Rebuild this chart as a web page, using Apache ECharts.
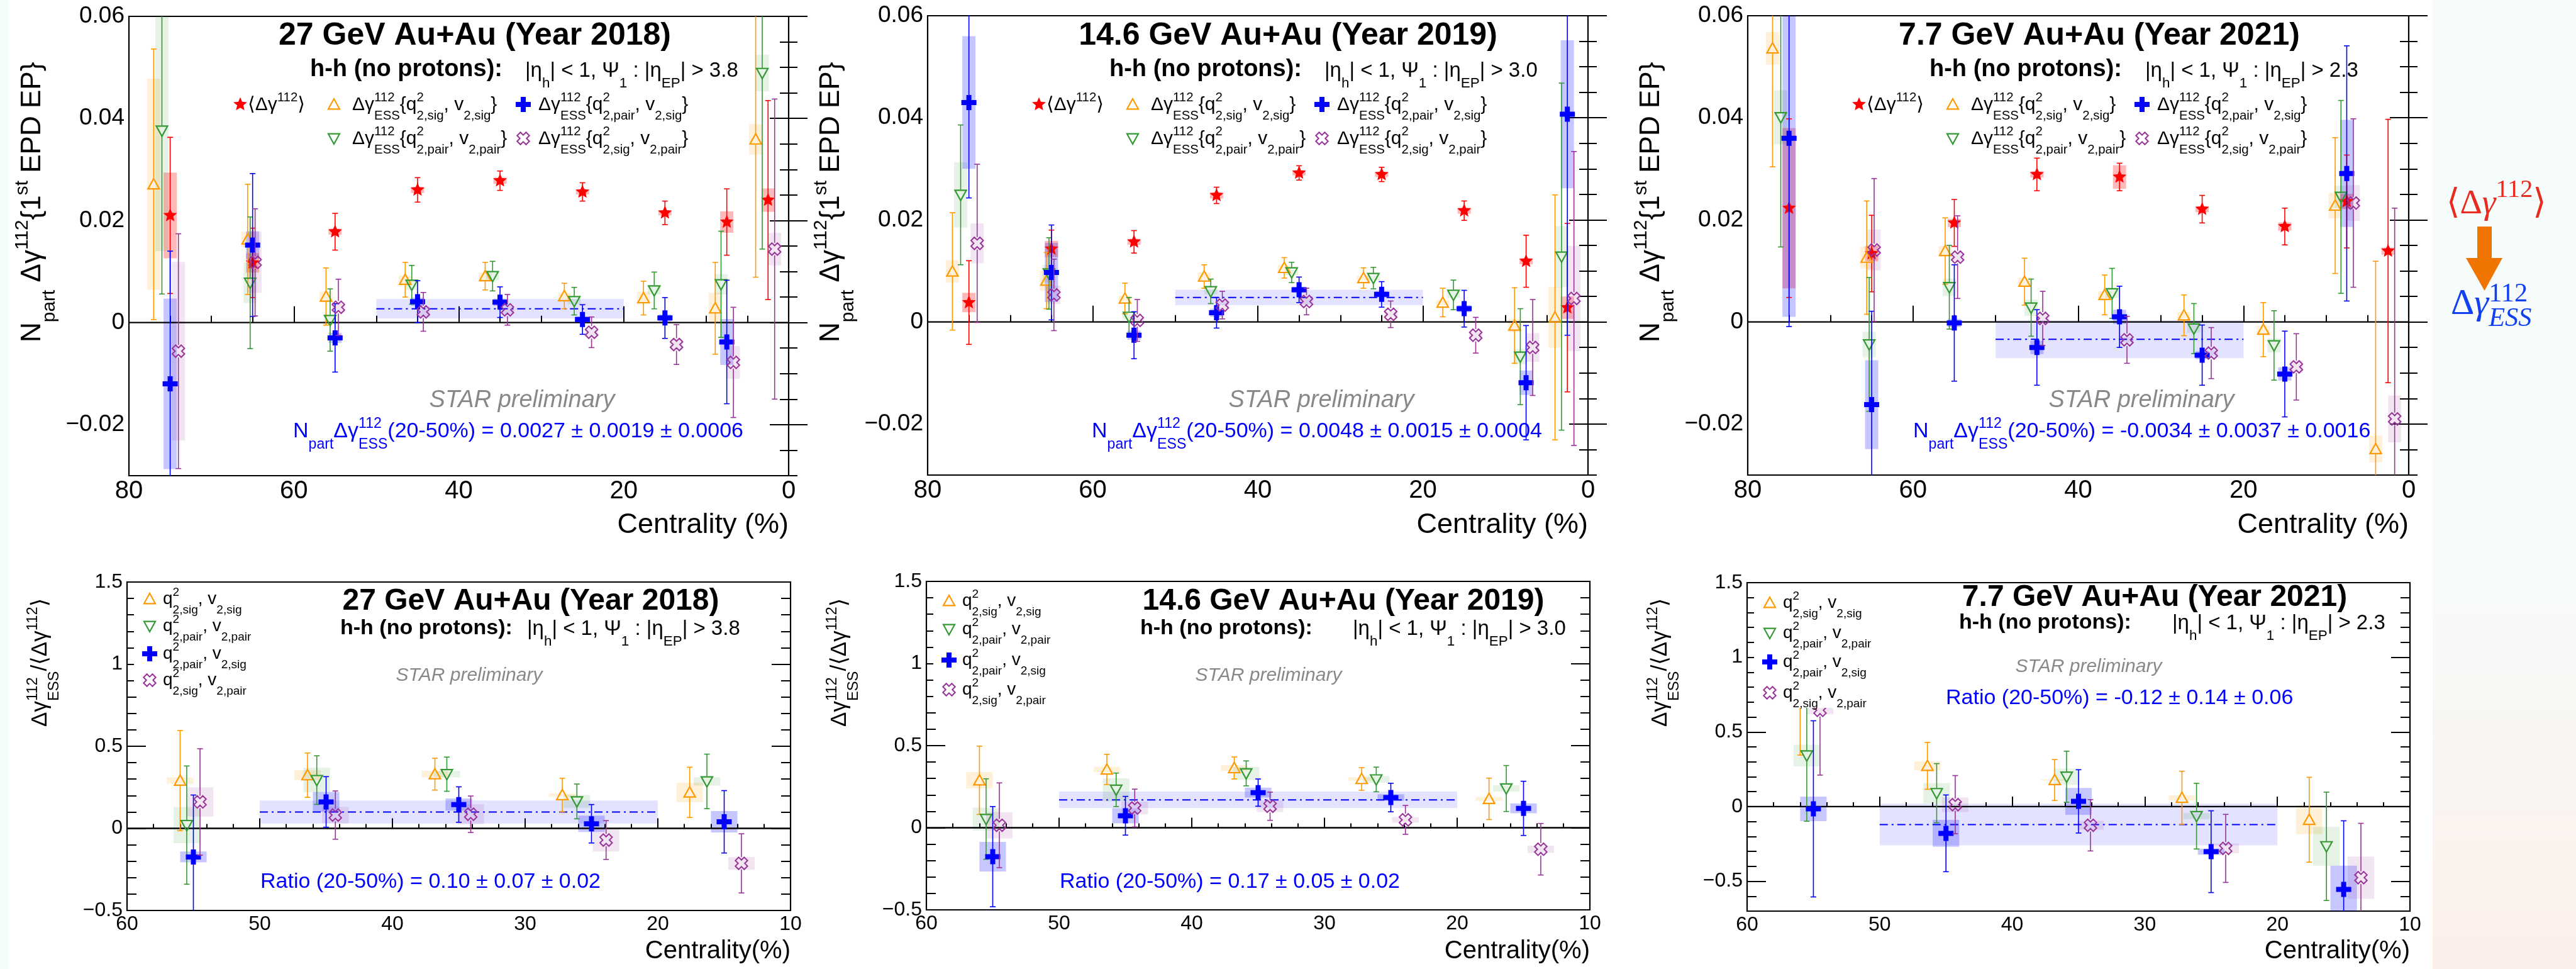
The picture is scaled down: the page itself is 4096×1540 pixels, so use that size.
<!DOCTYPE html>
<html>
<head>
<meta charset="utf-8">
<title>Δγ112 ESS vs centrality, Au+Au at 27, 14.6 and 7.7 GeV</title>
<script src="https://cdn.jsdelivr.net/npm/echarts@6.0.0/dist/echarts.min.js"></script>
<style>
  html, body { margin: 0; padding: 0; background: #ffffff; }
  #chart { width: 4096px; height: 1540px; }
</style>
</head>
<body>
<div id="chart"></div>
<script>
// ------------------------------------------------------------------
// Beam energies and cuts
// ------------------------------------------------------------------
const energies = ['27', '14.6', '7.7'];
const years = ['2018', '2019', '2021'];
const etaGaps = ['3.8', '3.0', '2.3'];

// Tick values
const topXTicks = [0, 20, 40, 60, 80];
const topYTicks = [-0.02, 0, 0.02, 0.04, 0.06];
const ratioXTicks = [10, 20, 30, 40, 50, 60];
const ratioYTicks = [-0.5, 0, 0.5, 1, 1.5];

// ------------------------------------------------------------------
// Upper row: N_part * Δγ112 vs centrality (%)
// mean = <Δγ112>, sigSig = {q2_sig, v2_sig}, pairPair = {q2_pair, v2_pair},
// pairSig = {q2_pair, v2_sig}, sigPair = {q2_sig, v2_pair}
// ------------------------------------------------------------------
const topX_mean     = [75, 65, 55, 45, 35, 25, 15, 7.5, 2.5];
const topX_sigSig   = [77, 65.6, 56.1, 46.5, 36.8, 27.2, 17.6, 8.9, 4.0];
const topX_pairPair = [76, 65.3, 55.6, 45.7, 35.9, 26.0, 16.3, 8.2, 3.2];
const topX_pairSig  = [75, 65, 55, 45, 35, 25, 15, 7.5, 2.5];
const topX_sigPair  = [74, 64.7, 54.6, 44.3, 34.1, 23.9, 13.6, 6.7, 1.7];

// 27 GeV
const t27_mean          = [0.0210, 0.0117, 0.0178, 0.0260, 0.0278, 0.0256, 0.0215, 0.0197, 0.0240];
const t27_mean_stat     = [0.0153, 0.0068, 0.0036, 0.0024, 0.0019, 0.0018, 0.0023, 0.0065, 0.0195];
const t27_mean_sys      = [0.0084, 0.0019, 0.0006, 0.0006, 0.0006, 0.0005, 0.0005, 0.0021, 0.0023];
const t27_sigSig        = [0.0271, 0.0163, 0.0051, 0.0084, 0.0091, 0.0052, 0.0048, 0.0028, 0.0359];
const t27_sigSig_stat   = [0.0265, 0.0108, 0.0056, 0.0034, 0.0027, 0.0025, 0.0033, 0.0090, 0.0270];
const t27_sigSig_sys    = [0.0207, 0.0015, 0.0010, 0.0008, 0.0007, 0.0006, 0.0013, 0.0030, 0.0030];
const t27_pairPair      = [0.0376, 0.0078, 0.0005, 0.0074, 0.0091, 0.0042, 0.0063, 0.0075, 0.0489];
const t27_pairPair_stat = [0.0320, 0.0129, 0.0061, 0.0038, 0.0029, 0.0027, 0.0036, 0.0104, 0.0345];
const t27_pairPair_sys  = [0.0236, 0.0040, 0.0010, 0.0010, 0.0008, 0.0006, 0.0008, 0.0020, 0.0036];
const t27_pairSig       = [-0.0120, 0.0152, -0.0030, 0.0041, 0.0040, 0.0006, 0.0009, -0.0038, null];
const t27_pairSig_stat  = [0.0260, 0.0140, 0.0067, 0.0041, 0.0030, 0.0029, 0.0040, 0.0121, null];
const t27_pairSig_sys   = [0.0167, 0.0027, 0.0010, 0.0008, 0.0007, 0.0006, 0.0007, 0.0045, null];
const t27_sigPair       = [-0.0056, 0.0118, 0.0030, 0.0021, 0.0025, -0.0019, -0.0043, -0.0078, 0.0144];
const t27_sigPair_stat  = [0.0230, 0.0105, 0.0055, 0.0038, 0.0030, 0.0030, 0.0039, 0.0108, 0.0294];
const t27_sigPair_sys   = [0.0175, 0.0060, 0.0010, 0.0010, 0.0008, 0.0008, 0.0010, 0.0032, 0.0032];

// 14.6 GeV
const t14_mean          = [0.0038, 0.0143, 0.0157, 0.0248, 0.0292, 0.0289, 0.0218, 0.0119, 0.0028];
const t14_mean_stat     = [0.0082, 0.0037, 0.0022, 0.0016, 0.0014, 0.0014, 0.0019, 0.0051, 0.0165];
const t14_mean_sys      = [0.0019, 0.0016, 0.0006, 0.0006, 0.0005, 0.0005, 0.0006, 0.0006, 0.0022];
const t14_sigSig        = [0.0099, 0.0081, 0.0046, 0.0089, 0.0106, 0.0086, 0.0038, -0.0007, 0.0009];
const t14_sigSig_stat   = [0.0115, 0.0055, 0.0030, 0.0023, 0.0020, 0.0020, 0.0028, 0.0074, 0.0240];
const t14_sigSig_sys    = [0.0022, 0.0020, 0.0005, 0.0008, 0.0006, 0.0005, 0.0005, 0.0013, 0.0060];
const t14_pairPair      = [0.0249, 0.0095, 0.0010, 0.0060, 0.0097, 0.0086, 0.0053, -0.0068, 0.0128];
const t14_pairPair_stat = [0.0137, 0.0070, 0.0038, 0.0024, 0.0020, 0.0021, 0.0029, 0.0094, 0.0340];
const t14_pairPair_sys  = [0.0064, 0.0017, 0.0005, 0.0006, 0.0005, 0.0005, 0.0006, 0.0015, 0.0060];
const t14_pairSig       = [0.0430, 0.0097, -0.0026, 0.0018, 0.0063, 0.0054, 0.0026, -0.0119, 0.0407];
const t14_pairSig_stat  = [0.0187, 0.0093, 0.0046, 0.0030, 0.0025, 0.0025, 0.0036, 0.0112, 0.0433];
const t14_pairSig_sys   = [0.0130, 0.0058, 0.0009, 0.0008, 0.0006, 0.0006, 0.0007, 0.0024, 0.0145];
const t14_sigPair       = [0.0154, 0.0053, 0.0003, 0.0033, 0.0040, 0.0015, -0.0026, -0.0050, 0.0046];
const t14_sigPair_stat  = [0.0155, 0.0070, 0.0041, 0.0027, 0.0026, 0.0026, 0.0035, 0.0094, 0.0288];
const t14_sigPair_sys   = [0.0039, 0.0018, 0.0006, 0.0008, 0.0006, 0.0006, 0.0007, 0.0028, 0.0103];

// 7.7 GeV
const t7_mean          = [0.0223, 0.0134, 0.0194, 0.0289, 0.0284, 0.0221, 0.0187, 0.0236, 0.0139];
const t7_mean_stat     = [0.0175, 0.0075, 0.0046, 0.0032, 0.0027, 0.0027, 0.0036, 0.0091, 0.0258];
const t7_mean_sys      = [0.0157, 0.0015, 0.0008, 0.0006, 0.0023, 0.0006, 0.0008, 0.0015, 0.0007];
const t7_sigSig        = [0.0536, 0.0126, 0.0139, 0.0079, 0.0053, 0.0013, -0.0015, 0.0228, -0.0249];
const t7_sigSig_stat   = [0.0232, 0.0111, 0.0065, 0.0046, 0.0039, 0.0040, 0.0053, 0.0133, 0.0368];
const t7_sigSig_sys    = [0.0032, 0.0022, 0.0010, 0.0008, 0.0007, 0.0006, 0.0008, 0.0025, 0.0026];
const t7_pairPair      = [0.0401, -0.0044, 0.0068, 0.0028, 0.0056, -0.0013, -0.0046, 0.0245, null];
const t7_pairPair_stat = [0.0254, 0.0131, 0.0082, 0.0056, 0.0049, 0.0049, 0.0068, 0.0189, null];
const t7_pairPair_sys  = [0.0053, 0.0025, 0.0017, 0.0016, 0.0009, 0.0008, 0.0014, 0.0022, null];
const t7_pairSig       = [0.0360, -0.0162, -0.0002, -0.0050, 0.0010, -0.0065, -0.0102, 0.0291, null];
const t7_pairSig_stat  = [0.0369, 0.0183, 0.0114, 0.0074, 0.0060, 0.0059, 0.0084, 0.0250, null];
const t7_pairSig_sys   = [0.0350, 0.0087, 0.0008, 0.0013, 0.0014, 0.0008, 0.0013, 0.0105, null];
const t7_sigPair       = [null, 0.0141, 0.0127, 0.0007, -0.0035, -0.0061, -0.0088, 0.0233, -0.0190];
const t7_sigPair_stat  = [null, 0.0140, 0.0081, 0.0053, 0.0046, 0.0050, 0.0065, 0.0165, 0.0413];
const t7_sigPair_sys   = [null, 0.0040, 0.0008, 0.0006, 0.0005, 0.0005, 0.0012, 0.0035, 0.0046];

// 20-50% averages of N_part*Δγ112_ESS{q2_pair, v2_sig}: value, stat, sys
const sumTopVal  = [0.0027, 0.0048, -0.0034];
const sumTopStat = [0.0019, 0.0015, 0.0037];
const sumTopSys  = [0.0006, 0.0004, 0.0016];

// ------------------------------------------------------------------
// Lower row: Δγ112_ESS / <Δγ112> vs centrality (%)
// ------------------------------------------------------------------
const ratioX_sigSig   = [56, 46.4, 36.8, 27.2, 17.6];
const ratioX_pairPair = [55.5, 45.7, 35.9, 26.1, 16.3];
const ratioX_pairSig  = [55, 45, 35, 25, 15];
const ratioX_sigPair  = [54.5, 44.3, 34.1, 23.9, 13.7];

const r27_sigSig        = [0.291, 0.324, 0.330, 0.203, 0.219];
const r27_sigSig_stat   = [0.305, 0.135, 0.097, 0.102, 0.153];
const r27_sigSig_sys    = [0.020, 0.030, 0.020, 0.010, 0.060];
const r27_pairPair      = [0.020, 0.294, 0.330, 0.164, 0.286];
const r27_pairPair_stat = [0.360, 0.148, 0.104, 0.106, 0.166];
const r27_pairPair_sys  = [0.110, 0.075, 0.020, 0.040, 0.025];
const r27_pairSig       = [-0.174, 0.161, 0.145, 0.028, 0.040];
const r27_pairSig_stat  = [0.377, 0.154, 0.108, 0.117, 0.190];
const r27_pairSig_sys   = [0.033, 0.060, 0.037, 0.050, 0.065];
const r27_sigPair       = [0.161, 0.081, 0.086, -0.071, -0.213];
const r27_sigPair_stat  = [0.324, 0.147, 0.111, 0.118, 0.180];
const r27_sigPair_sys   = [0.089, 0.050, 0.061, 0.070, 0.039];

const r14_sigSig        = [0.289, 0.355, 0.364, 0.297, 0.176];
const r14_sigSig_stat   = [0.208, 0.092, 0.067, 0.069, 0.126];
const r14_sigSig_sys    = [0.050, 0.017, 0.018, 0.010, 0.012];
const r14_pairPair      = [0.053, 0.231, 0.331, 0.294, 0.239];
const r14_pairPair_stat = [0.245, 0.102, 0.076, 0.075, 0.140];
const r14_pairPair_sys  = [0.070, 0.070, 0.040, 0.020, 0.020];
const r14_pairSig       = [-0.176, 0.073, 0.214, 0.184, 0.118];
const r14_pairSig_stat  = [0.305, 0.118, 0.083, 0.087, 0.165];
const r14_pairSig_sys   = [0.090, 0.046, 0.030, 0.020, 0.030];
const r14_sigPair       = [0.015, 0.120, 0.131, 0.048, -0.131];
const r14_sigPair_stat  = [0.258, 0.115, 0.086, 0.088, 0.157];
const r14_sigPair_sys   = [0.080, 0.039, 0.035, 0.017, 0.022];

const r7_sigSig        = [0.850, 0.273, 0.178, 0.059, -0.088];
const r7_sigSig_stat   = [0.505, 0.157, 0.137, 0.178, 0.284];
const r7_sigSig_sys    = [0.030, 0.030, 0.005, 0.017, 0.097];
const r7_pairPair      = [0.342, 0.090, 0.200, -0.064, -0.266];
const r7_pairPair_stat = [0.440, 0.198, 0.171, 0.220, 0.363];
const r7_pairPair_sys  = [0.073, 0.068, 0.055, 0.020, 0.130];
const r7_pairSig       = [-0.015, -0.179, 0.035, -0.302, -0.555];
const r7_pairSig_stat  = [0.590, 0.257, 0.212, 0.274, 0.460];
const r7_pairSig_sys   = [0.082, 0.090, 0.090, 0.020, 0.160];
const r7_sigPair       = [0.645, 0.013, -0.125, -0.280, -0.476];
const r7_sigPair_stat  = [0.434, 0.195, 0.172, 0.228, 0.364];
const r7_sigPair_sys   = [0.027, 0.049, 0.030, 0.032, 0.142];

// 20-50% averages of the ratio: value, stat, sys
const sumRatioVal  = [0.10, 0.17, -0.12];
const sumRatioStat = [0.07, 0.05, 0.14];
const sumRatioSys  = [0.02, 0.02, 0.06];

// ------------------------------------------------------------------
// Assemble per-panel tables
// ------------------------------------------------------------------
const topX = { mean: topX_mean, sigSig: topX_sigSig, pairPair: topX_pairPair, pairSig: topX_pairSig, sigPair: topX_sigPair };
const ratioX = { sigSig: ratioX_sigSig, pairPair: ratioX_pairPair, pairSig: ratioX_pairSig, sigPair: ratioX_sigPair };
const topSets = [
  { mean: [t27_mean, t27_mean_stat, t27_mean_sys], sigSig: [t27_sigSig, t27_sigSig_stat, t27_sigSig_sys],
    pairPair: [t27_pairPair, t27_pairPair_stat, t27_pairPair_sys], pairSig: [t27_pairSig, t27_pairSig_stat, t27_pairSig_sys],
    sigPair: [t27_sigPair, t27_sigPair_stat, t27_sigPair_sys] },
  { mean: [t14_mean, t14_mean_stat, t14_mean_sys], sigSig: [t14_sigSig, t14_sigSig_stat, t14_sigSig_sys],
    pairPair: [t14_pairPair, t14_pairPair_stat, t14_pairPair_sys], pairSig: [t14_pairSig, t14_pairSig_stat, t14_pairSig_sys],
    sigPair: [t14_sigPair, t14_sigPair_stat, t14_sigPair_sys] },
  { mean: [t7_mean, t7_mean_stat, t7_mean_sys], sigSig: [t7_sigSig, t7_sigSig_stat, t7_sigSig_sys],
    pairPair: [t7_pairPair, t7_pairPair_stat, t7_pairPair_sys], pairSig: [t7_pairSig, t7_pairSig_stat, t7_pairSig_sys],
    sigPair: [t7_sigPair, t7_sigPair_stat, t7_sigPair_sys] }
];
const ratioSets = [
  { sigSig: [r27_sigSig, r27_sigSig_stat, r27_sigSig_sys], pairPair: [r27_pairPair, r27_pairPair_stat, r27_pairPair_sys],
    pairSig: [r27_pairSig, r27_pairSig_stat, r27_pairSig_sys], sigPair: [r27_sigPair, r27_sigPair_stat, r27_sigPair_sys] },
  { sigSig: [r14_sigSig, r14_sigSig_stat, r14_sigSig_sys], pairPair: [r14_pairPair, r14_pairPair_stat, r14_pairPair_sys],
    pairSig: [r14_pairSig, r14_pairSig_stat, r14_pairSig_sys], sigPair: [r14_sigPair, r14_sigPair_stat, r14_sigPair_sys] },
  { sigSig: [r7_sigSig, r7_sigSig_stat, r7_sigSig_sys], pairPair: [r7_pairPair, r7_pairPair_stat, r7_pairPair_sys],
    pairSig: [r7_pairSig, r7_pairSig_stat, r7_pairSig_sys], sigPair: [r7_sigPair, r7_sigPair_stat, r7_sigPair_sys] }
];

// ------------------------------------------------------------------
// Styling
// ------------------------------------------------------------------
const FONT = '"Liberation Sans", "DejaVu Sans", sans-serif';
const SERIF = '"Liberation Serif", "DejaVu Serif", serif';
const MID = 0.35;          // canvas 'middle' baseline above the alphabetic one, in em
const ERR_LW = 1.6;
const CAP = 4.5;

function starPts(R) {
  const p = [];
  for (let k = 0; k < 10; k++) {
    const r = k % 2 === 0 ? R : R * 0.45;
    const a = -Math.PI / 2 + k * Math.PI / 5;
    p.push([r * Math.cos(a), r * Math.sin(a)]);
  }
  return p;
}
function triPts(w, dir) {
  const h = w * 0.9;
  return [[0, -dir * h * 0.55], [w / 2, dir * h * 0.45], [-w / 2, dir * h * 0.45]];
}
function plusPts(s, t) {
  const a = s / 2, b = t / 2;
  return [[-b, -a], [b, -a], [b, -b], [a, -b], [a, b], [b, b], [b, a], [-b, a], [-b, b], [-a, b], [-a, -b], [-b, -b]];
}
function xPts(s, t) {
  const c = Math.SQRT1_2;
  return plusPts(s, t).map(([x, y]) => [(x - y) * c, (x + y) * c]);
}

const MK = {
  mean:     { color: '#ff0000', box: 'rgba(255,0,0,0.28)',    pts: starPts(11.5), open: false },
  sigSig:   { color: '#ff9900', box: 'rgba(255,153,0,0.15)',  pts: triPts(18, 1),  open: true, gap: 8, lw: 2.2 },
  pairPair: { color: '#339933', box: 'rgba(51,153,51,0.13)',  pts: triPts(18, -1), open: true, gap: 8, lw: 2.2 },
  pairSig:  { color: '#0000ff', box: 'rgba(0,0,255,0.22)',    pts: plusPts(24, 8), open: false },
  sigPair:  { color: '#993399', box: 'rgba(153,51,153,0.13)', pts: xPts(20, 7.5), open: true, gap: 10, lw: 2 }
};
function markerEl(m, x, y, z) {
  const st = m.open ? { fill: 'none', stroke: m.color, lineWidth: m.lw } : { fill: m.color, stroke: null };
  return { type: 'polygon', x, y, z, shape: { points: m.pts }, style: st };
}

// ------------------------------------------------------------------
// Text with ROOT-like super/subscripts
// ------------------------------------------------------------------
const mctx = document.createElement('canvas').getContext('2d');
function measure(t, font) { mctx.font = font; return mctx.measureText(t).width; }
function fontOf(size, st) {
  return (st.style || 'normal') + ' ' + (st.weight || 'normal') + ' ' + size + 'px ' + (st.family || FONT);
}
function parseMath(s) {
  const items = [];
  let buf = '';
  for (let i = 0; i < s.length; i++) {
    const ch = s[i];
    if ((ch === '^' || ch === '_') && s[i + 1] === '{') {
      const end = s.indexOf('}', i + 2);
      const g = s.slice(i + 2, end);
      if (buf) { items.push({ t: buf }); buf = ''; }
      const slot = ch === '^' ? 'sup' : 'sub';
      const last = items[items.length - 1];
      if (last && last.t === undefined && last[slot] === undefined) last[slot] = g;
      else items.push({ [slot]: g });
      i = end;
    } else buf += ch;
  }
  if (buf) items.push({ t: buf });
  return items;
}
function mathText(src, o) {
  const items = typeof src === 'string' ? parseMath(src) : src;
  const S = o.size, k = o.scr || 0.68;
  const up = o.up !== undefined ? o.up : 0.47, dn = o.dn !== undefined ? o.dn : 0.5;
  const base = { family: o.family || FONT, weight: o.weight || 'normal', style: o.style || 'normal' };
  const fill = o.fill || '#000';
  const kids = [];
  let cx = 0;
  const put = (t, x, bl, size, st) => {
    const f = fontOf(size, st);
    kids.push({ type: 'text', x, y: bl - MID * size, z: 100, silent: true,
      style: { text: t, font: f, fill, align: 'left', verticalAlign: 'middle', textAlign: 'left', textVerticalAlign: 'middle' } });
    return measure(t, f);
  };
  for (const it of items) {
    if (it.t !== undefined) {
      cx += put(it.t, cx, 0, S, Object.assign({}, base, it.st || {}));
    } else {
      let w = 0;
      if (it.sup !== undefined) w = Math.max(w, put(it.sup, cx, -up * S, k * S, Object.assign({}, base, it.supSt || {})));
      if (it.sub !== undefined) w = Math.max(w, put(it.sub, cx, dn * S, k * S, Object.assign({}, base, it.subSt || {})));
      cx += w;
    }
  }
  const shift = o.align === 'center' ? -cx / 2 : o.align === 'right' ? -cx : 0;
  kids.forEach(e => { e.x += shift; });
  return { type: 'group', x: o.x, y: o.y, rotation: o.rot || 0, z: 100, silent: true, children: kids };
}

// ------------------------------------------------------------------
// Panel geometry (px) and axis setups
// ------------------------------------------------------------------
const topGrids = [
  { left: 205, top: 26, width: 1049, height: 730 },
  { left: 1475, top: 25, width: 1050, height: 730 },
  { left: 2779, top: 25, width: 1051, height: 730 }
];
const botGrids = [
  { left: 202, top: 925, width: 1055, height: 522 },
  { left: 1473, top: 924, width: 1055, height: 522 },
  { left: 2778, top: 926, width: 1054, height: 522 }
];
function steps(a, b, d) {
  const out = [];
  const n = Math.round((b - a) / d);
  for (let i = 0; i <= n; i++) out.push(Math.round((a + i * d) * 1e6) / 1e6);
  return out;
}
const TOP_AX = { xmin: 0, xmax: 80, ymin: -0.03, ymax: 0.06, xMajor: topXTicks, xMinor: steps(0, 80, 5),
  yMajor: topYTicks, yMinor: steps(-0.03, 0.06, 0.005), xMajLen: 26, xMinLen: 11, yMajLen: 30, yMinLen: 14,
  xFont: 40, yFont: 37, xMargin: 5, yMargin: 7, boxHalf: 0.8 };
const BOT_AX = { xmin: 10, xmax: 60, ymin: -0.5, ymax: 1.5, xMajor: ratioXTicks, xMinor: steps(10, 60, 2),
  yMajor: ratioYTicks, yMinor: steps(-0.5, 1.5, 0.1), xMajLen: 16, xMinLen: 7, yMajLen: 30, yMinLen: 15,
  xFont: 32, yFont: 32, xMargin: 6, yMargin: 7, boxHalf: 1.0 };
const BOT_AX_77 = Object.assign({}, BOT_AX, { ymin: -0.7, yMinor: steps(-0.7, 1.5, 0.1) });

function tickFmt(v) {
  const r = Math.round(v * 1e6) / 1e6;
  return r < 0 ? '\u2212' + String(-r) : String(r);
}

const grids = [], xAxes = [], yAxes = [], series = [], gfx = [];
const tickLine = { color: '#000', width: 2 };

function addPanel(g, ax) {
  const gi = grids.length;
  grids.push(Object.assign({ show: true, borderColor: '#000', borderWidth: 2.2, backgroundColor: 'transparent',
    containLabel: false, outerBoundsMode: 'none' }, g));
  const xi = xAxes.length, yi = yAxes.length;
  const bx = { gridIndex: gi, type: 'value', min: ax.xmin, max: ax.xmax, inverse: true, position: 'bottom',
    axisLine: { show: false }, splitLine: { show: false } };
  xAxes.push(Object.assign({}, bx, {
    axisTick: { show: true, inside: true, length: ax.xMajLen, customValues: ax.xMajor, lineStyle: tickLine },
    axisLabel: { show: true, customValues: ax.xMajor, fontSize: ax.xFont, fontFamily: FONT, color: '#000',
      margin: ax.xMargin, formatter: tickFmt } }));
  xAxes.push(Object.assign({}, bx, {
    axisTick: { show: true, inside: true, length: ax.xMinLen, customValues: ax.xMinor, lineStyle: tickLine },
    axisLabel: { show: false } }));
  const by = { gridIndex: gi, type: 'value', min: ax.ymin, max: ax.ymax, axisLine: { show: false }, splitLine: { show: false } };
  ['left', 'right'].forEach(pos => {
    yAxes.push(Object.assign({}, by, { position: pos,
      axisTick: { show: true, inside: true, length: ax.yMajLen, customValues: ax.yMajor, lineStyle: tickLine },
      axisLabel: pos === 'left'
        ? { show: true, customValues: ax.yMajor, fontSize: ax.yFont, fontFamily: FONT, color: '#000', margin: ax.yMargin, formatter: tickFmt }
        : { show: false } }));
    yAxes.push(Object.assign({}, by, { position: pos,
      axisTick: { show: true, inside: true, length: ax.yMinLen, customValues: ax.yMinor, lineStyle: tickLine },
      axisLabel: { show: false } }));
  });
  return { xi, yi };
}

// 20-50% band with its dash-dotted mean line
const SUM_FROM = 50, SUM_TO = 20;
function summarySeries(xi, yi, v, e) {
  return { type: 'custom', xAxisIndex: xi, yAxisIndex: yi, z: 1, silent: true, animation: false, clip: false,
    encode: { x: 0, y: 2 }, data: [[SUM_FROM, SUM_TO, v, e]],
    renderItem(params, api) {
      const a = api.coord([api.value(0), api.value(2) + api.value(3)]);
      const b = api.coord([api.value(1), api.value(2) - api.value(3)]);
      const m1 = api.coord([api.value(0), api.value(2)]), m2 = api.coord([api.value(1), api.value(2)]);
      return { type: 'group', children: [
        { type: 'rect', shape: { x: Math.min(a[0], b[0]), y: Math.min(a[1], b[1]), width: Math.abs(b[0] - a[0]), height: Math.abs(b[1] - a[1]) },
          style: { fill: 'rgba(0,0,255,0.11)' } },
        { type: 'line', shape: { x1: m1[0], y1: m1[1], x2: m2[0], y2: m2[1] },
          style: { stroke: '#0000ff', lineWidth: 2, lineDash: [13, 6, 3, 6] } }
      ] };
    } };
}
function zeroSeries(xi, yi, xmin) {
  return { type: 'custom', xAxisIndex: xi, yAxisIndex: yi, z: 3, silent: true, animation: false, clip: false,
    data: [[xmin, 0]],
    renderItem(params, api) {
      const cs = params.coordSys;
      const y = api.coord([api.value(0), api.value(1)])[1];
      return { type: 'line', shape: { x1: cs.x, y1: y, x2: cs.x + cs.width, y2: y }, style: { stroke: '#000', lineWidth: 2.4 } };
    } };
}
function rows(xs, ys, es) {
  const d = [];
  xs.forEach((x, i) => { if (ys[i] !== null && ys[i] !== undefined) d.push([x, ys[i], es[i]]); });
  return d;
}
function sysSeries(xi, yi, key, xs, ys, ss, halfW) {
  const m = MK[key];
  return { type: 'custom', xAxisIndex: xi, yAxisIndex: yi, z: 2, silent: true, animation: false, clip: false,
    data: rows(xs, ys, ss),
    renderItem(params, api) {
      const cs = params.coordSys;
      const x = api.value(0), y = api.value(1), s = api.value(2);
      const a = api.coord([x - halfW, y + s]), b = api.coord([x + halfW, y - s]);
      const y0 = Math.max(Math.min(a[1], b[1]), cs.y), y1 = Math.min(Math.max(a[1], b[1]), cs.y + cs.height);
      if (y1 <= y0) return null;
      return { type: 'rect', shape: { x: Math.min(a[0], b[0]), y: y0, width: Math.abs(b[0] - a[0]), height: y1 - y0 },
        style: { fill: m.box } };
    } };
}
function pointSeries(xi, yi, key, xs, ys, es, z) {
  const m = MK[key];
  return { type: 'custom', xAxisIndex: xi, yAxisIndex: yi, z, silent: true, animation: false, clip: false,
    data: rows(xs, ys, es),
    renderItem(params, api) {
      const cs = params.coordSys;
      const top = cs.y, bot = cs.y + cs.height;
      const x = api.value(0), y = api.value(1), e = api.value(2);
      const p = api.coord([x, y]);
      const yHi = api.coord([x, y + e])[1], yLo = api.coord([x, y - e])[1];
      const gap = m.open ? m.gap : 0;
      const ls = { stroke: m.color, lineWidth: ERR_LW };
      const kids = [];
      const seg = (a, b) => {
        const s = Math.max(a, top), t = Math.min(b, bot);
        if (t > s) kids.push({ type: 'line', shape: { x1: p[0], y1: s, x2: p[0], y2: t }, style: ls });
      };
      if (p[1] - gap > yHi) seg(yHi, p[1] - gap);
      if (yLo > p[1] + gap) seg(p[1] + gap, yLo);
      [yHi, yLo].forEach(yy => {
        if (yy >= top && yy <= bot) kids.push({ type: 'line', shape: { x1: p[0] - CAP, y1: yy, x2: p[0] + CAP, y2: yy }, style: ls });
      });
      if (p[1] >= top - 1 && p[1] <= bot + 1) kids.push(markerEl(m, p[0], p[1]));
      return { type: 'group', children: kids };
    } };
}

// ------------------------------------------------------------------
// Upper row
// ------------------------------------------------------------------
const topLayout = [
  { titleC: 755, subL: 493, etaL: 835, starC: 830, sumL: 466 },
  { titleC: 2048, subL: 1764, etaL: 2106, starC: 2101, sumL: 1736 },
  { titleC: 3338, subL: 3068, etaL: 3411, starC: 3405, sumL: 3042 }
];
const topOrder = ['mean', 'sigSig', 'pairPair', 'pairSig', 'sigPair'];
const topLegend = [
  { key: 'mean', col: 0, row: 0, text: '\u27E8\u0394\u03B3^{112}\u27E9' },
  { key: 'sigSig', col: 1, row: 0, text: '\u0394\u03B3^{112}_{ESS}{q^{2}_{2,sig}, v_{2,sig}}' },
  { key: 'pairSig', col: 2, row: 0, text: '\u0394\u03B3^{112}_{ESS}{q^{2}_{2,pair}, v_{2,sig}}' },
  { key: 'pairPair', col: 1, row: 1, text: '\u0394\u03B3^{112}_{ESS}{q^{2}_{2,pair}, v_{2,pair}}' },
  { key: 'sigPair', col: 2, row: 1, text: '\u0394\u03B3^{112}_{ESS}{q^{2}_{2,sig}, v_{2,pair}}' }
];
const legColMarker = [177, 326, 627], legColText = [189, 355, 651];
const legRowMarker = [166, 220], legRowBase = [177, 231];

topGrids.forEach((g, i) => {
  const { xi, yi } = addPanel(g, TOP_AX);
  series.push(summarySeries(xi, yi, sumTopVal[i], sumTopStat[i]));
  topOrder.forEach(k => {
    const d = topSets[i][k];
    series.push(sysSeries(xi, yi, k, topX[k], d[0], d[2], TOP_AX.boxHalf));
  });
  series.push(zeroSeries(xi, yi, TOP_AX.xmin));
  topOrder.forEach((k, j) => {
    const d = topSets[i][k];
    series.push(pointSeries(xi, yi, k, topX[k], d[0], d[1], 5 + j));
  });

  const L = topLayout[i];
  gfx.push(mathText(energies[i] + ' GeV Au+Au (Year ' + years[i] + ')', { x: L.titleC, y: 75, size: 50, weight: 'bold', align: 'center' }));
  gfx.push(mathText('h-h (no protons):', { x: L.subL, y: 124, size: 38, weight: 'bold' }));
  gfx.push(mathText('|\u03B7_{h}| < 1, \u03A8_{1} : |\u03B7_{EP}| > ' + etaGaps[i], { x: L.etaL, y: 124, size: 33 }));
  topLegend.forEach(e => {
    gfx.push(Object.assign(markerEl(MK[e.key], g.left + legColMarker[e.col], legRowMarker[e.row], 101), { silent: true }));
    gfx.push(mathText(e.text, { x: g.left + legColText[e.col], y: legRowBase[e.row], size: 30 }));
  });
  gfx.push(mathText('STAR preliminary', { x: L.starC, y: 650, size: 38, style: 'italic', fill: '#888888', align: 'center' }));
  gfx.push(mathText('N_{part}\u0394\u03B3^{112}_{ESS}(20-50%) = ' + sumTopVal[i].toFixed(4) + ' \u00B1 ' +
    sumTopStat[i].toFixed(4) + ' \u00B1 ' + sumTopSys[i].toFixed(4), { x: L.sumL, y: 698, size: 34, fill: '#0000ff' }));
  gfx.push(mathText('Centrality (%)', { x: g.left + g.width, y: 850, size: 45, align: 'right' }));
  gfx.push(mathText('N_{part} \u0394\u03B3^{112}{1^{st} EPD EP}', { x: g.left - 138, y: 544, size: 44, rot: Math.PI / 2 }));
});

// ------------------------------------------------------------------
// Lower row
// ------------------------------------------------------------------
const botLayout = [
  { titleC: 844, titleB: 973, subL: 541, etaL: 838, subB: 1011, starC: 746, starB: 1084, ratL: 414, ratB: 1414, rows: [952, 995, 1039, 1081] },
  { titleC: 2136, titleB: 973, subL: 1813, etaL: 2151, subB: 1011, starC: 2017, starB: 1084, ratL: 1685, ratB: 1414, rows: [955, 1000, 1049, 1096] },
  { titleC: 3426, titleB: 967, subL: 3115, etaL: 3454, subB: 1002, starC: 3321, starB: 1070, ratL: 3094, ratB: 1122, rows: [958, 1006, 1052, 1101] }
];
const botOrder = ['sigSig', 'pairPair', 'pairSig', 'sigPair'];
const botLegend = [
  { key: 'sigSig', text: 'q^{2}_{2,sig}, v_{2,sig}' },
  { key: 'pairPair', text: 'q^{2}_{2,pair}, v_{2,pair}' },
  { key: 'pairSig', text: 'q^{2}_{2,pair}, v_{2,sig}' },
  { key: 'sigPair', text: 'q^{2}_{2,sig}, v_{2,pair}' }
];

botGrids.forEach((g, i) => {
  const ax = i === 2 ? BOT_AX_77 : BOT_AX;
  const { xi, yi } = addPanel(g, ax);
  series.push(summarySeries(xi, yi, sumRatioVal[i], sumRatioStat[i]));
  botOrder.forEach(k => {
    const d = ratioSets[i][k];
    series.push(sysSeries(xi, yi, k, ratioX[k], d[0], d[2], ax.boxHalf));
  });
  series.push(zeroSeries(xi, yi, ax.xmin));
  botOrder.forEach((k, j) => {
    const d = ratioSets[i][k];
    series.push(pointSeries(xi, yi, k, ratioX[k], d[0], d[1], 5 + j));
  });

  const L = botLayout[i];
  // legend sits on an opaque white pad
  gfx.push({ type: 'rect', z: 99, silent: true,
    shape: { x: g.left + 11, y: g.top + 3, width: 205, height: L.rows[3] + 24 - (g.top + 3) }, style: { fill: '#ffffff' } });
  botLegend.forEach((e, r) => {
    gfx.push(Object.assign(markerEl(MK[e.key], g.left + 36, L.rows[r], 101), { silent: true }));
    gfx.push(mathText(e.text, { x: g.left + 57, y: L.rows[r] + 10, size: 28 }));
  });
  gfx.push(mathText(energies[i] + ' GeV Au+Au (Year ' + years[i] + ')', { x: L.titleC, y: L.titleB, size: 48, weight: 'bold', align: 'center' }));
  gfx.push(mathText('h-h (no protons):', { x: L.subL, y: L.subB, size: 34, weight: 'bold' }));
  gfx.push(mathText('|\u03B7_{h}| < 1, \u03A8_{1} : |\u03B7_{EP}| > ' + etaGaps[i], { x: L.etaL, y: L.subB, size: 33 }));
  gfx.push(mathText('STAR preliminary', { x: L.starC, y: L.starB, size: 30, style: 'italic', fill: '#888888', align: 'center' }));
  gfx.push(mathText('Ratio (20-50%) = ' + sumRatioVal[i].toFixed(2) + ' \u00B1 ' + sumRatioStat[i].toFixed(2) + ' \u00B1 ' +
    sumRatioSys[i].toFixed(2), { x: L.ratL, y: L.ratB, size: 34, fill: '#0000ff' }));
  gfx.push(mathText('Centrality(%)', { x: g.left + g.width, y: 1526, size: 40, align: 'right' }));
  gfx.push(mathText('\u0394\u03B3^{112}_{ESS}/\u27E8\u0394\u03B3^{112}\u27E9', { x: g.left - 125, y: 1155, size: 35, rot: Math.PI / 2 }));
});

// ------------------------------------------------------------------
// Side note: <Δγ112>  →  Δγ112_ESS
// ------------------------------------------------------------------
gfx.push({ type: 'rect', z: 0, silent: true, shape: { x: 3868, y: 0, width: 228, height: 1540 },
  style: { fill: new echarts.graphic.LinearGradient(0, 0, 0, 1, [
    { offset: 0, color: '#f6fcfc' }, { offset: 0.6, color: '#f7fbfa' }, { offset: 1, color: '#fcefe9' }]) } });
gfx.push({ type: 'rect', z: 0, silent: true, shape: { x: 0, y: 0, width: 13, height: 1540 }, style: { fill: '#f4fbfb' } });
gfx.push(mathText([{ t: '\u27E8\u0394' }, { t: '\u03B3', st: { style: 'italic' } }, { sup: '112' }, { t: '\u27E9' }],
  { x: 3890, y: 344, size: 55, family: SERIF, fill: '#e82a1f', scr: 0.73, up: 0.5 }));
gfx.push({ type: 'polygon', z: 100, silent: true,
  shape: { points: [[3939, 360], [3962, 360], [3962, 410], [3979, 410], [3950.5, 462], [3921, 410], [3939, 410]] },
  style: { fill: '#f07400' } });
gfx.push(mathText([{ t: '\u0394' }, { t: '\u03B3', st: { style: 'italic' } }, { sup: '112', sub: 'ESS', subSt: { style: 'italic' } }],
  { x: 3897, y: 504, size: 58, family: SERIF, fill: '#1040f0', scr: 0.73, up: 0.36, dn: 0.3 }));

// ------------------------------------------------------------------
const chart = echarts.init(document.getElementById('chart'), null, { renderer: 'canvas', width: 4096, height: 1540 });
chart.setOption({
  animation: false,
  backgroundColor: '#ffffff',
  grid: grids,
  xAxis: xAxes,
  yAxis: yAxes,
  series: series,
  graphic: { elements: gfx }
});
</script>
</body>
</html>
